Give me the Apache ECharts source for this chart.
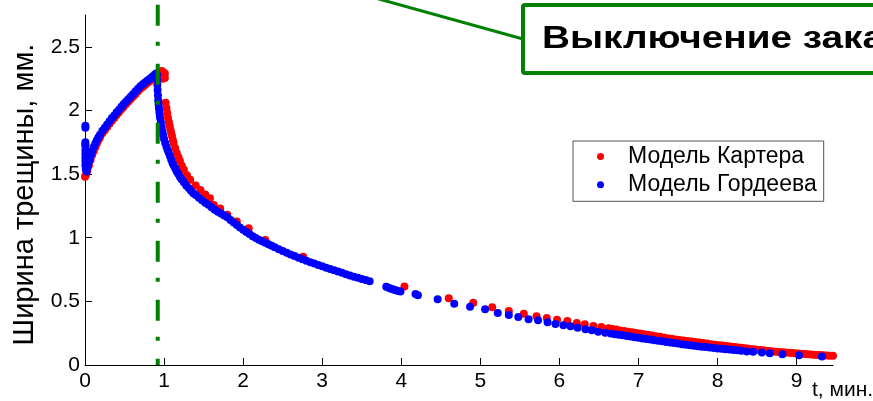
<!DOCTYPE html>
<html>
<head>
<meta charset="utf-8">
<script src="https://cdn.jsdelivr.net/npm/echarts@6/dist/echarts.min.js"></script>
<style>html,body{margin:0;padding:0;background:#fff}#c{width:873px;height:401px}</style>
</head>
<body>
<div id="c"></div>
<script>
// ---- data (x = t, min; y = crack width, mm) ----
var xTicks = [0,1,2,3,4,5,6,7,8,9];
var yTicks = [0,0.5,1,1.5,2,2.5];
var shutInTime = 0.92;

var carterRise = [[0.0,1.48],[0.01,1.49],[0.02,1.51],[0.03,1.53],[0.05,1.57],[0.07,1.61],[0.09,1.65],[0.11,1.68],[0.13,1.71],[0.15,1.74],[0.17,1.765],[0.19,1.79],[0.22,1.82],[0.25,1.845],[0.28,1.87],[0.31,1.895],[0.34,1.92],[0.37,1.94],[0.40,1.965],[0.43,1.985],[0.46,2.01],[0.49,2.03],[0.52,2.05],[0.55,2.07],[0.58,2.09],[0.61,2.11],[0.64,2.13],[0.67,2.15],[0.70,2.17],[0.73,2.185],[0.76,2.20],[0.79,2.215],[0.82,2.23],[0.85,2.245],[0.88,2.26],[0.91,2.27]];
var carterPeak = [[0.97,2.31],[0.99,2.30],[1.01,2.29],[0.99,2.27],[1.01,2.255],[0.98,2.25]];
var carterDrop = [[1.02,2.06],[1.03,2.02],[1.04,1.98],[1.05,1.94],[1.06,1.91],[1.07,1.88],[1.08,1.85],[1.09,1.825],[1.10,1.80],[1.11,1.77],[1.12,1.745],[1.14,1.705],[1.16,1.665],[1.18,1.635],[1.20,1.605],[1.225,1.565],[1.25,1.535],[1.29,1.49],[1.33,1.455],[1.40,1.41],[1.46,1.375],[1.52,1.34],[1.58,1.31],[1.63,1.258],[1.71,1.23],[1.80,1.18],[1.92,1.127],[2.07,1.075],[2.28,0.983],[2.76,0.85]];
var carterMid = [[4.04,0.616],[4.60,0.524],[4.91,0.49],[5.15,0.454],[5.36,0.425],[5.55,0.403],[5.71,0.383],[5.84,0.37],[5.97,0.356],[6.10,0.346],[6.22,0.33],[6.32,0.32],[6.43,0.307],[6.53,0.299],[6.62,0.288]];
var carterTail = [[6.67,0.283],[6.72,0.278],[6.77,0.272],[6.82,0.267],[6.87,0.262],[6.92,0.257],[6.97,0.252],[7.02,0.247],[7.07,0.242],[7.12,0.237],[7.17,0.231],[7.22,0.226],[7.27,0.221],[7.32,0.216],[7.37,0.211],[7.42,0.206],[7.47,0.201],[7.52,0.196],[7.57,0.192],[7.62,0.188],[7.67,0.184],[7.72,0.18],[7.77,0.176],[7.82,0.172],[7.87,0.168],[7.92,0.164],[7.97,0.16],[8.02,0.156],[8.06,0.153],[8.10,0.15],[8.14,0.147],[8.18,0.144],[8.22,0.141],[8.26,0.138],[8.30,0.135],[8.34,0.132],[8.38,0.129],[8.42,0.126],[8.46,0.123],[8.50,0.12],[8.54,0.117],[8.58,0.115],[8.62,0.112],[8.66,0.11],[8.70,0.107],[8.74,0.105],[8.78,0.103],[8.82,0.101],[8.86,0.099],[8.90,0.097],[8.94,0.095],[8.98,0.093],[9.02,0.091],[9.06,0.089],[9.10,0.087],[9.14,0.085],[9.18,0.083],[9.22,0.081],[9.26,0.079],[9.30,0.078],[9.34,0.076],[9.38,0.075],[9.42,0.073],[9.46,0.072]];

var gordeevStart = [[0.005,1.88],[0.005,1.865],[0.005,1.75],[0.005,1.735],[0.005,1.72],[0.005,1.69],[0.005,1.66],[0.005,1.63],[0.005,1.60],[0.005,1.57],[0.01,1.54],[0.02,1.52]];
var gordeevRise = [[0.03,1.55],[0.04,1.575],[0.05,1.60],[0.06,1.62],[0.07,1.64],[0.08,1.66],[0.09,1.68],[0.11,1.71],[0.13,1.74],[0.15,1.765],[0.17,1.79],[0.19,1.81],[0.22,1.84],[0.25,1.865],[0.28,1.89],[0.31,1.915],[0.34,1.94],[0.37,1.96],[0.40,1.985],[0.43,2.005],[0.46,2.03],[0.49,2.05],[0.52,2.07],[0.55,2.09],[0.58,2.11],[0.61,2.13],[0.64,2.15],[0.67,2.17],[0.70,2.19],[0.73,2.205],[0.76,2.22],[0.79,2.235],[0.82,2.25],[0.85,2.265],[0.88,2.28],[0.90,2.29]];
var gordeevDrop = [[0.91,2.28],[0.912,2.24],[0.915,2.20],[0.918,2.16],[0.922,2.12],[0.926,2.08],[0.93,2.05],[0.935,2.02],[0.94,1.99],[0.945,1.965],[0.95,1.94],[0.96,1.905],[0.97,1.87],[0.98,1.835],[0.99,1.805],[1.00,1.775],[1.015,1.745],[1.03,1.715],[1.045,1.69],[1.06,1.665],[1.075,1.64],[1.09,1.615],[1.105,1.59],[1.12,1.57],[1.14,1.545],[1.16,1.52],[1.18,1.50],[1.20,1.48],[1.22,1.46],[1.25,1.435],[1.28,1.41],[1.31,1.39],[1.34,1.37],[1.37,1.35],[1.40,1.335],[1.44,1.315],[1.48,1.295],[1.52,1.275],[1.56,1.26],[1.60,1.24],[1.64,1.22],[1.68,1.205],[1.72,1.19],[1.76,1.175],[1.80,1.16],[1.84,1.14],[1.88,1.12],[1.92,1.10],[1.96,1.08],[2.00,1.062],[2.04,1.045],[2.08,1.03],[2.12,1.012],[2.16,0.998],[2.20,0.985],[2.24,0.972],[2.28,0.96],[2.32,0.948],[2.36,0.936],[2.40,0.925],[2.45,0.91],[2.50,0.895],[2.55,0.882],[2.60,0.869],[2.65,0.856],[2.70,0.843],[2.75,0.831],[2.80,0.819],[2.85,0.808],[2.90,0.797],[2.95,0.786],[3.00,0.775],[3.05,0.764],[3.10,0.754],[3.15,0.744],[3.20,0.734],[3.25,0.724],[3.30,0.714],[3.35,0.704],[3.40,0.694],[3.45,0.685],[3.50,0.676],[3.55,0.667],[3.60,0.658]];
var gordeevMid = [[3.81,0.615],[3.84,0.607],[3.87,0.60],[3.90,0.594],[3.93,0.588],[3.96,0.582],[3.99,0.577],[4.18,0.558],[4.21,0.548],[4.46,0.516],[4.67,0.482],[4.87,0.458],[5.06,0.438],[5.22,0.409],[5.36,0.393],[5.48,0.377],[5.61,0.359],[5.73,0.351],[5.85,0.336],[5.95,0.322],[6.05,0.312],[6.14,0.304],[6.23,0.293],[6.33,0.281],[6.41,0.273],[6.49,0.262],[6.58,0.254]];
var gordeevTail = [[6.65,0.247],[6.70,0.242],[6.75,0.237],[6.80,0.233],[6.85,0.228],[6.90,0.224],[6.95,0.219],[7.00,0.214],[7.05,0.209],[7.10,0.204],[7.15,0.20],[7.20,0.195],[7.25,0.19],[7.30,0.186],[7.35,0.181],[7.40,0.177],[7.45,0.172],[7.50,0.168],[7.55,0.164],[7.60,0.16],[7.65,0.156],[7.70,0.152],[7.75,0.148],[7.80,0.144],[7.85,0.141],[7.90,0.137],[7.95,0.134],[8.00,0.13],[8.05,0.127],[8.10,0.124],[8.15,0.121],[8.20,0.118],[8.25,0.115],[8.30,0.112]];
var gordeevEnd = [[8.37,0.107],[8.45,0.104],[8.56,0.098],[8.66,0.092],[8.82,0.085],[9.03,0.077],[9.32,0.066]];

var nameCarter = 'Модель Картера';
var nameGordeev = 'Модель Гордеева';
// ---- end data ----

var FONT = '"Liberation Sans", Arial, Helvetica, sans-serif';
var carter = [].concat(carterRise, carterPeak, carterDrop, carterMid, carterTail);
var gordeev = [].concat(gordeevStart, gordeevRise, gordeevDrop, gordeevMid, gordeevTail, gordeevEnd);

var chart = echarts.init(document.getElementById('c'), null, {renderer: 'canvas'});
chart.setOption({
  animation: false,
  backgroundColor: '#ffffff',
  grid: {left: 85, right: 40, top: 15, bottom: 36, containLabel: false},
  xAxis: {
    type: 'value', min: 0, max: 9.46, interval: 1,
    axisLine: {show: true, onZero: false, lineStyle: {color: '#000', width: 1}},
    axisTick: {show: true, inside: true, length: 7, lineStyle: {color: '#000'}, customValues: xTicks},
    axisLabel: {color: '#000', fontSize: 21, fontFamily: FONT, margin: 6, customValues: xTicks},
    splitLine: {show: false}
  },
  yAxis: {
    type: 'value', min: 0, max: 2.75, interval: 0.5,
    name: 'Ширина трещины, мм.', nameLocation: 'middle', nameGap: 46, nameRotate: 90,
    nameTextStyle: {color: '#000', fontSize: 29, fontFamily: FONT, padding: [0, 9, 0, 0]},
    axisLine: {show: true, onZero: false, lineStyle: {color: '#000', width: 1}},
    axisTick: {show: true, inside: true, length: 7, lineStyle: {color: '#000'}, customValues: yTicks},
    axisLabel: {color: '#000', fontSize: 21, fontFamily: FONT, margin: 5, customValues: yTicks},
    splitLine: {show: false}
  },
  legend: {
    orient: 'vertical', left: 573, top: 141,
    data: [{name: nameCarter, icon: 'circle'}, {name: nameGordeev, icon: 'circle'}],
    itemWidth: 7, itemHeight: 7, itemGap: 5.3,
    padding: [4, 7, 5, 24],
    borderColor: '#555', borderWidth: 1, backgroundColor: '#fff',
    textStyle: {color: '#000', fontSize: 23, fontFamily: FONT, padding: [0, 0, 0, 19]},
    selectedMode: false
  },
  series: [
    {name: nameCarter, type: 'scatter', data: carter, symbol: 'circle', symbolSize: 8,
     itemStyle: {color: '#ff0000', opacity: 1}, emphasis: {disabled: true}, z: 2},
    {name: nameGordeev, type: 'scatter', data: gordeev, symbol: 'circle', symbolSize: 8,
     itemStyle: {color: '#0000ff', opacity: 1}, emphasis: {disabled: true}, z: 3},
    {name: 'shut-in', type: 'line', data: [[shutInTime, 2.83], [shutInTime, 0]], symbol: 'none', clip: false,
     lineStyle: {color: '#008000', width: 4, type: [21, 16, 4, 18]}, z: 4, silent: true}
  ],
  graphic: [
    {type: 'line', shape: {x1: 350, y1: -9, x2: 523, y2: 39}, style: {stroke: '#008000', lineWidth: 3}, z: 10},
    {type: 'rect', shape: {x: 523, y: 5, width: 420, height: 68, r: 2}, style: {fill: '#fff', stroke: '#008000', lineWidth: 4}, z: 11},
    {type: 'text', x: 542, y: 39, scaleX: 1.25, style: {text: 'Выключение закачки', fontSize: 31, fontWeight: 'bold', fontFamily: FONT, fill: '#000', align: 'left', verticalAlign: 'middle'}, z: 12},
    {type: 'text', x: 812, y: 390, style: {text: 't, мин.', fontSize: 21, fontFamily: FONT, fill: '#000', align: 'left', verticalAlign: 'middle'}, z: 12}
  ]
});
</script>
</body>
</html>
